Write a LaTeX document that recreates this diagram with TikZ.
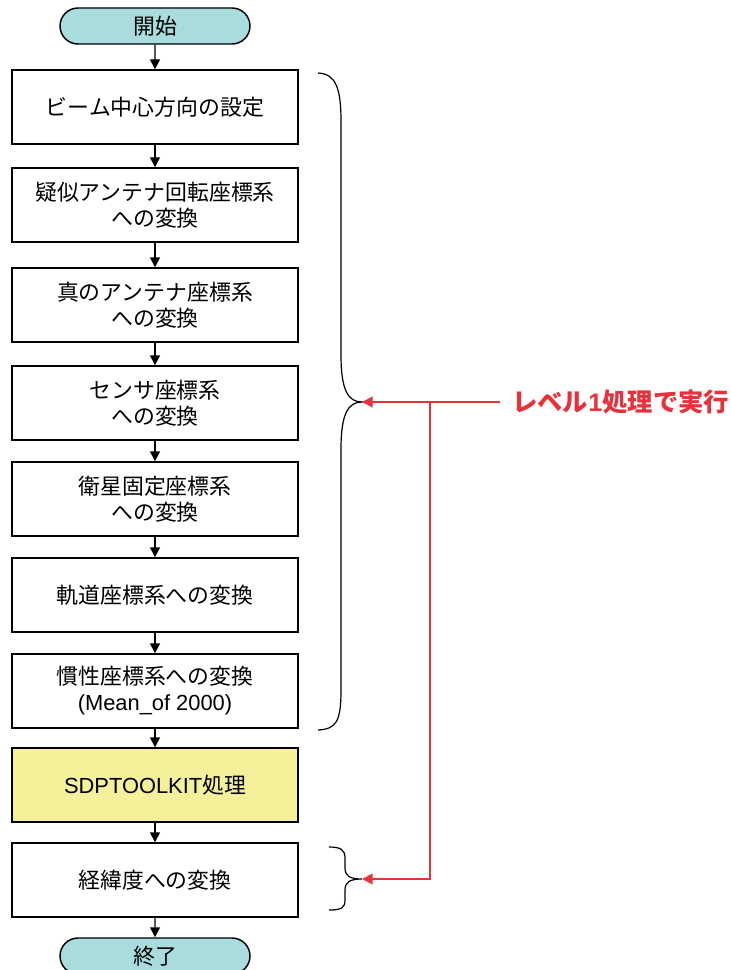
\documentclass[tikz,border=0pt]{standalone}
\usepackage{fontspec}
\setmainfont{Liberation Sans}
\newfontfamily\cjk{Noto Sans CJK JP}
\newfontfamily\lat{Liberation Sans}
\usetikzlibrary{shapes.misc,arrows.meta}
\definecolor{termfill}{HTML}{A9DCDC}
\definecolor{toolfill}{HTML}{F5F09A}
\definecolor{lblred}{HTML}{E8313A}
\tikzset{
  box/.style={draw=black, line width=1.1pt, fill=white, minimum width=214.5pt, minimum height=55.5pt, align=center, font=\cjk\fontsize{16.4pt}{19.5pt}\selectfont, inner sep=0pt},
  toolbox/.style={box, fill=toolfill},
  term/.style={draw=black, line width=1.1pt, fill=termfill, rounded rectangle, minimum width=142.5pt, minimum height=27pt, inner sep=0pt, font=\cjk\fontsize{16.4pt}{19.5pt}\selectfont},
  flow/.style={draw=black, line width=1.1pt, -{Triangle[length=7.5pt,width=7.5pt]}},
  bracestyle/.style={draw=black, line width=0.9pt},
  redarrow/.style={draw=lblred, line width=1.5pt, -{Triangle[length=8pt,width=8pt]}},
  redline/.style={draw=lblred, line width=1.5pt}
}
\begin{document}
\begin{tikzpicture}[x=0.75pt,y=-0.75pt]
\useasboundingbox (0,0) rectangle (731,970);
\node[term] (start) at (155,26) {開始};
\node[box] (b1) at (155,107) {ビーム中心方向の設定};
\node[box] (b2) at (155,205) {疑似アンテナ回転座標系\\への変換};
\node[box] (b3) at (155,305) {真のアンテナ座標系\\への変換};
\node[box] (b4) at (155,403) {センサ座標系\\への変換};
\node[box] (b5) at (155,499) {衛星固定座標系\\への変換};
\node[box] (b6) at (155,595) {軌道座標系への変換};
\node[box] (b7) at (155,691) {慣性座標系への変換\\{\lat (Mean\_of 2000)}};
\node[toolbox] (b8) at (155,785) {{\lat SDPTOOLKIT}処理};
\node[box] (b9) at (155,880) {経緯度への変換};
\node[term] (end) at (155,956) {終了};
\draw[flow] (start) -- (b1);
\draw[flow] (b1) -- (b2);
\draw[flow] (b2) -- (b3);
\draw[flow] (b3) -- (b4);
\draw[flow] (b4) -- (b5);
\draw[flow] (b5) -- (b6);
\draw[flow] (b6) -- (b7);
\draw[flow] (b7) -- (b8);
\draw[flow] (b8) -- (b9);
\draw[flow] (b9) -- (end);
% big brace
\coordinate (bigtip) at (362,402);
\draw[bracestyle] (318,73) .. controls (336,74) and (341,88) .. (341,122) -- (341,355)
  .. controls (341,390) and (348,402) .. (bigtip)
  .. controls (348,402) and (341,414) .. (341,449) -- (341,690)
  .. controls (341,722) and (336,729) .. (318,730);
% small brace
\coordinate (smalltip) at (362,879);
\draw[bracestyle] (329,847) .. controls (341,847) and (345,850) .. (345,858) -- (345,868)
  .. controls (345,876) and (350,879) .. (smalltip)
  .. controls (350,879) and (345,882) .. (345,890) -- (345,900)
  .. controls (345,908) and (341,910) .. (329,910);
% label
\node[anchor=west, text=lblred, font=\cjk\bfseries\fontsize{19pt}{22pt}\selectfont, inner sep=0pt] (lbl) at (512,402) {レベル{\lat\bfseries 1}処理で実行};
\coordinate (junc) at (430,402);
\draw[redarrow] (500,402) -- (bigtip);
\draw[redline] (lbl.west) ++(-12,0) -- (500,402);
\draw[redarrow] (junc) |- (smalltip);
\end{tikzpicture}
\end{document}
